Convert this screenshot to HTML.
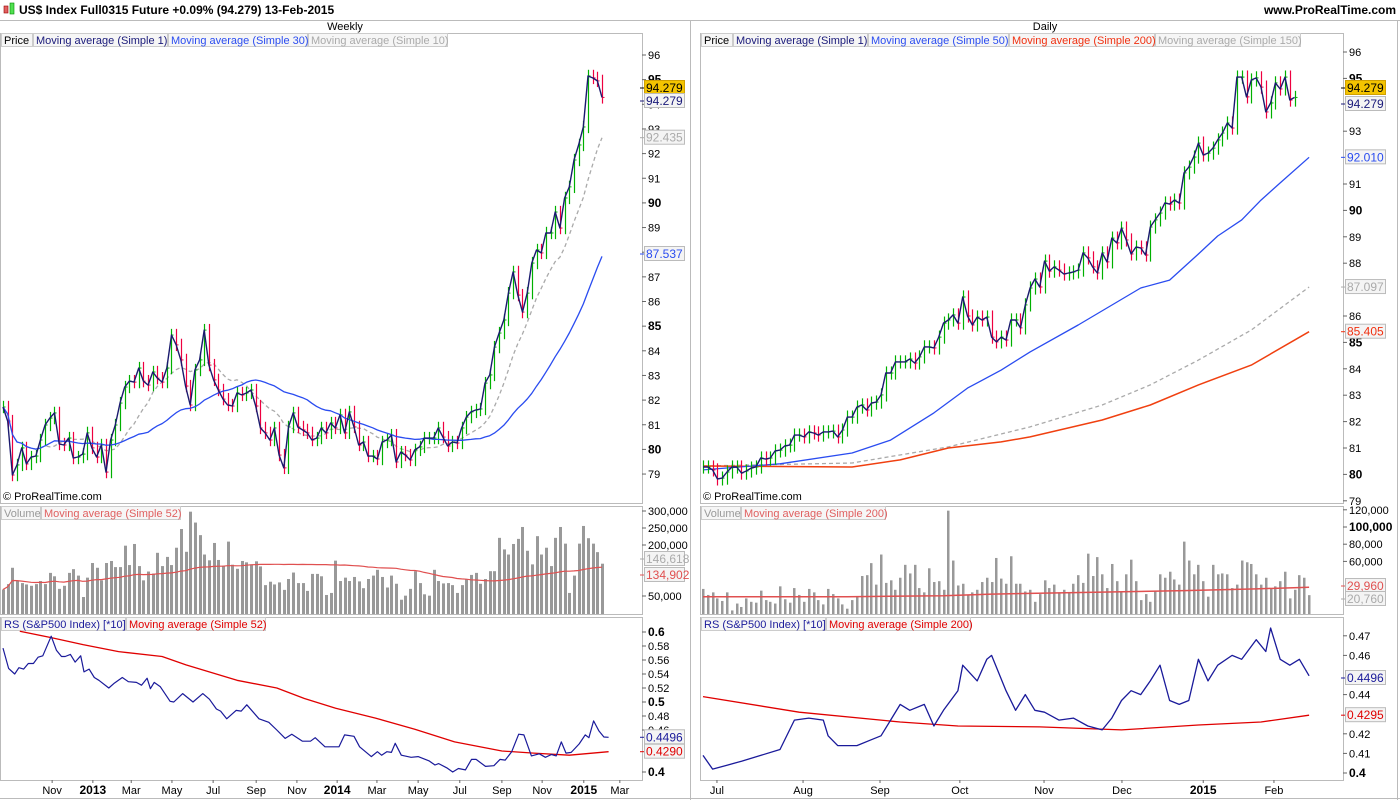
<!DOCTYPE html>
<html><head><meta charset="utf-8"><style>
body{margin:0;background:#fff;font-family:"Liberation Sans",sans-serif}
svg{display:block}
text{font-family:"Liberation Sans",sans-serif}
</style></head><body>
<svg id="c" width="1400" height="800" viewBox="0 0 1400 800" xmlns="http://www.w3.org/2000/svg">
<rect x="0" y="0" width="1400" height="800" fill="#fff"/>
<g>
<rect x="4" y="6" width="4" height="7" fill="#e06060" stroke="#900" stroke-width="0.6"/>
<rect x="10" y="3" width="4" height="11" fill="#50e050" stroke="#080" stroke-width="0.6"/>
<text x="19" y="14" font-size="12" font-weight="bold" fill="#000">US$ Index Full0315 Future   +0.09% (94.279)   13-Feb-2015</text>
<text x="1396" y="14" font-size="12" font-weight="bold" text-anchor="end" fill="#000">www.ProRealTime.com</text>
<line x1="0" y1="20.5" x2="1400" y2="20.5" stroke="#bbb"/>
</g>
<text x="345" y="30" font-size="11" text-anchor="middle">Weekly</text>
<text x="1045" y="30" font-size="11" text-anchor="middle">Daily</text>
<g id="g"></g>
</svg>
<script>
// ===== Weekly data =====
const wCloses=[81.72,81.15,78.96,79.37,80.06,79.41,79.69,79.73,80.38,80.99,81.27,81.48,80.22,80.18,80.46,79.65,79.69,79.81,80.67,80.06,79.69,80.18,79.08,80.38,80.99,81.88,82.53,82.77,82.73,83.30,82.77,82.61,83.14,82.89,82.73,83.30,84.64,84.24,83.63,82.57,81.80,83.22,83.63,84.84,83.42,82.82,82.41,82.04,81.80,81.76,82.29,82.21,82.29,82.41,81.76,80.87,80.67,80.38,80.87,79.77,79.25,80.91,81.48,80.91,80.79,80.67,80.38,
80.46,80.87,80.67,81.07,80.87,81.40,80.67,81.52,80.91,80.18,80.30,79.73,79.73,79.61,80.30,80.38,80.58,79.49,79.89,79.77,79.57,79.98,80.10,80.46,80.46,80.46,80.87,80.50,80.14,80.30,80.26,80.87,81.31,81.52,81.60,81.64,82.69,83.02,84.15,84.72,85.25,86.34,87.20,86.26,85.57,86.34,87.56,88.09,87.97,88.78,88.78,89.63,88.98,90.20,90.65,91.74,92.35,93.08,95.15,95.07,94.95,94.279];
const wVolumeK=[69,85,133,94,88,84,80,85,94,85,118,108,71,80,118,129,110,47,104,147,133,96,147,153,135,135,198,141,203,138,96,122,116,177,138,165,141,192,247,180,298,266,229,172,155,206,156,139,210,142,130,153,149,143,152,137,82,92,84,90,68,100,119,88,88,65,115,115,108,53,59,154,94,104,94,106,93,73,100,110,127,106,75,110,86,39,51,71,123,88,55,51,127,94,87,88,82,59,82,100,112,118,86,100,123,123,221,187,172,203,218,253,183,143,226,172,192,138,221,253,204,59,110,204,256,220,204,179,145];
const wRsIdx=[0,1.2,2.5,3.4,4.4,5.4,6.5,7.5,8.5,10.3,11.4,12.5,13.3,14.4,15.4,16.6,17.3,18.4,19.5,20.5,22.6,23.8,25.5,26.8,28.5,29.6,30.8,31.5,32.3,33.6,35.7,36.5,38.4,40.6,42.7,44.1,45.6,46.5,47.8,49.8,50.9,52.1,54.7,56.8,58.5,60.3,61.7,64,65.7,66.7,68.8,71.8,73,75,76.2,78.7,80,80.9,82,83,83.8,85.1,87.2,88.7,91,92.3,93.1,94.8,96.1,97.3,98.8,100.1,101.1,103.1,104.9,106.2,107.3,108.7,110.2,111.3,112.9,114.6,115.9,117.2,118.2,119.3,120.3,121.4,123.1,124.4,125.2,126.2,127.3,128.4,129.4];
const wRsVal=[0.577,0.548,0.540,0.549,0.547,0.555,0.555,0.564,0.566,0.594,0.574,0.565,0.565,0.568,0.557,0.566,0.543,0.547,0.535,0.531,0.520,0.527,0.535,0.529,0.528,0.524,0.534,0.519,0.528,0.522,0.501,0.500,0.512,0.500,0.512,0.504,0.490,0.487,0.476,0.488,0.487,0.496,0.476,0.471,0.460,0.448,0.454,0.444,0.444,0.449,0.436,0.436,0.453,0.451,0.436,0.422,0.429,0.424,0.429,0.428,0.441,0.424,0.421,0.422,0.416,0.410,0.412,0.406,0.400,0.405,0.403,0.418,0.418,0.408,0.409,0.418,0.417,0.429,0.454,0.453,0.423,0.426,0.421,0.425,0.423,0.443,0.427,0.428,0.440,0.453,0.449,0.473,0.459,0.450,0.4496];
const wRsMaIdx=[3.6,10.3,17.1,24.7,34,39.1,50,58.5,64.4,71.1,79.6,88,96.5,106.6,113.4,121,129.4];
const wRsMaVal=[0.601,0.592,0.582,0.572,0.565,0.553,0.531,0.520,0.505,0.491,0.477,0.461,0.443,0.430,0.427,0.424,0.429];
const wMonthLabels=["Nov","2013","Mar","May","Jul","Sep","Nov","2014","Mar","May","Jul","Sep","Nov","2015","Mar"];
const wMonthWeek=[10.5,19.2,27.4,36.1,44.9,54.1,62.8,71.4,79.9,88.7,97.6,106.6,115.2,124.1,131.8];
const wPriceTicks=[96,95,94,93,92,91,90,89,88,87,86,85,84,83,82,81,80,79];
const wVolTicks=[300,250,200,50];
const wRsTicks=[0.6,0.58,0.56,0.54,0.52,0.5,0.48,0.46,0.4];
// ===== Daily data =====
const dCloses=[80.28,80.28,80.17,79.83,79.86,80.09,80.28,80.28,80.05,80.13,80.24,80.28,80.62,80.58,80.62,80.89,80.92,81.08,81.11,81.49,81.49,81.42,81.61,81.57,81.49,81.61,81.61,81.64,81.42,81.68,82.17,82.17,82.55,82.63,82.44,82.70,82.74,83.01,83.84,83.84,84.26,84.26,84.26,84.37,84.22,84.45,84.83,84.83,84.79,85.20,85.73,85.85,86.04,85.73,86.72,86.00,85.66,85.96,85.85,85.96,85.20,85.02,85.20,85.09,85.85,85.85,85.55,86.42,87.06,87.40,87.10,88.08,87.70,87.86,87.74,87.59,87.63,87.67,87.74,88.39,88.20,87.86,87.63,88.39,88.05,88.95,88.77,89.33,88.88,88.35,88.61,88.58,88.31,89.37,89.64,89.90,90.28,90.24,90.39,90.28,91.42,91.64,92.02,92.55,92.10,92.17,92.36,92.67,92.93,93.31,93.12,95.05,95.05,94.30,94.94,95.02,94.67,93.73,94.07,94.83,94.60,95.05,94.18,94.279];
const dVolumeK=[28,21,24,17,14,24,3,11,7,17,13,12,26,15,13,11,31,16,12,29,21,13,28,24,15,10,28,22,17,10,5,15,19,43,44,58,33,68,35,38,27,41,56,46,56,29,24,52,36,37,27,119,61,32,34,21,24,27,36,41,36,64,40,34,66,34,34,25,27,13,22,38,29,33,24,27,24,34,44,35,69,43,65,45,29,57,37,25,45,62,37,15,22,13,25,45,41,48,39,33,83,61,45,56,37,19,56,45,46,45,29,33,61,59,57,45,33,41,28,31,37,48,17,27,44,41,20.76];
const dMa50Idx=[0,16,31,39,48,55,62,68,78,91,97,103,107,112,116,120,126];
const dMa50Val=[80.17,80.40,80.81,81.30,82.33,83.27,83.95,84.64,85.66,87.06,87.36,88.35,89.03,89.64,90.39,91.04,92.01];
const dMa200Idx=[0,31,41,51,62,68,83,93,103,114,126];
const dMa200Val=[80.32,80.28,80.55,81.00,81.23,81.42,82.06,82.63,83.39,84.14,85.405];
const dMa150Idx=[0,31,51,68,83,93,103,114,126];
const dMa150Val=[80.32,80.43,81.04,81.80,82.63,83.39,84.33,85.47,87.097];
const dVolMaIdx=[0,30,50,60,80,100,115,126];
const dVolMaVal=[19,19,20,22,24,26,28,29.96];
const dRsIdx=[0,2,5,8,12,16,19,22,25,26,28,32,35,37,39,41,43,46,48,50,53,54,57,59,60,63,65,67,69,71,74,77,80,83,85,87,89,91,93,95,97,99,101,103,105,107,110,112,115,117,118,120,122,124,126];
const dRsVal=[0.409,0.402,0.404,0.406,0.409,0.412,0.427,0.428,0.427,0.419,0.414,0.414,0.417,0.419,0.427,0.435,0.432,0.435,0.424,0.432,0.442,0.455,0.447,0.458,0.460,0.442,0.432,0.440,0.432,0.431,0.427,0.428,0.424,0.422,0.428,0.437,0.442,0.440,0.447,0.455,0.437,0.435,0.437,0.458,0.447,0.455,0.460,0.458,0.468,0.462,0.474,0.458,0.455,0.458,0.4496];
const dRsMaIdx=[0,20,41,53,70,87,103,116,126];
const dRsMaVal=[0.439,0.431,0.426,0.424,0.4235,0.422,0.4245,0.426,0.4295];
const dMonthLabels=["Jul","Aug","Sep","Oct","Nov","Dec","2015","Feb"];
const dMonthDay=[2.9,20.8,36.8,53.4,70.9,87.1,104,118.7];
const dPriceTicks=[96,95,93,91,90,89,88,86,85,84,83,82,81,80,79];
const dVolTicks=[120,100,80,60];
const dRsTicks=[0.47,0.46,0.44,0.42,0.41,0.4];

const NS="http://www.w3.org/2000/svg";
const G=document.getElementById('g');
function mk(tag,attrs,parent){const e=document.createElementNS(NS,tag);for(const k in attrs)e.setAttribute(k,attrs[k]);(parent||G).appendChild(e);return e;}
function txt(x,y,s,attrs,parent){const e=mk('text',Object.assign({x:x,y:y,'font-size':11,fill:'#000'},attrs||{}),parent);e.textContent=s;return e;}
function sma(arr,n){return arr.map((v,i)=>{const s=Math.max(0,i-n+1);let t=0;for(let j=s;j<=i;j++)t+=arr[j];return t/(i-s+1);});}

const wx=i=>3+i*4.68;
const dx=i=>703+i*4.81;
const wpy=p=>55+(96-p)*24.65;
const dpy=p=>52+(96-p)*26.4;
const wvy=v=>613-v*0.34;
const dvy=v=>613-v*0.86;
const wry=v=>632+(0.6-v)*700;
const dry=v=>773-(v-0.4)*1960;

function frame(x,y,w,h,name){const r=mk('rect',{x:x+0.5,y:y+0.5,width:w,height:h,fill:'none',stroke:'#bbb'});}
frame(0,33,642,470,'weekly-price-pane');frame(0,506,642,108,'weekly-volume-pane');frame(0,617,642,163,'weekly-rs-pane');
frame(700,33,643,470,'daily-price-pane');frame(700,506,643,108,'daily-volume-pane');frame(700,617,643,163,'daily-rs-pane');
mk('line',{x1:690.5,y1:21,x2:690.5,y2:800,stroke:'#bbb'});
mk('line',{x1:1397.5,y1:21,x2:1397.5,y2:800,stroke:'#bbb'});
mk('line',{x1:0,y1:798.5,x2:1400,y2:798.5,stroke:'#bbb'});

let defs=mk('defs',{});
function clip(id,x,y,w,h){const c=mk('clipPath',{id:id},defs);mk('rect',{x:x,y:y,width:w,height:h},c);}
clip('cwp',1,34,641,469);clip('cdp',701,34,642,469);clip('cwv',1,507,641,107);clip('cdv',701,507,642,107);clip('cwr',1,618,641,162);clip('cdr',701,618,642,162);

function legend(x,y,items,name){let cx=x;const g=mk('g',{});
 items.forEach(([s,col,w])=>{const r=mk('rect',{x:cx+0.5,y:y+0.5,width:w,height:13,fill:'#f6f6f6',stroke:'#ccc'},g);txt(cx+3,y+11,s,{fill:col},g);cx+=w+1;});}
legend(1,33,[['Price','#000',31],['Moving average (Simple 1)','#1a1a7a',134],['Moving average (Simple 30)','#2a4cf0',139],['Moving average (Simple 10)','#aaa',139]],'weekly-price-legend');
legend(701,33,[['Price','#000',31],['Moving average (Simple 1)','#1a1a7a',134],['Moving average (Simple 50)','#2a4cf0',140],['Moving average (Simple 200)','#f03010',145],['Moving average (Simple 150)','#aaa',145]],'daily-price-legend');
legend(1,506,[['Volume','#999',39],['Moving average (Simple 52)','#e06060',139]],'weekly-volume-legend');
legend(701,506,[['Volume','#999',39],['Moving average (Simple 200)','#e06060',144]],'daily-volume-legend');
legend(1,617,[['RS (S&P500 Index) [*10]','#1a1a9a',124],['Moving average (Simple 52)','#e00000',139]],'weekly-rs-legend');
legend(701,617,[['RS (S&P500 Index) [*10]','#1a1a9a',124],['Moving average (Simple 200)','#e00000',144]],'daily-rs-legend');
txt(3,500,'© ProRealTime.com',{});
txt(703,500,'© ProRealTime.com',{});

function ticks(list,yf,x,fmt,boldSet){list.forEach(v=>{const y=yf(v);mk('line',{x1:x,y1:y,x2:x+4,y2:y,stroke:'#666'});const b=boldSet.includes(v);txt(x+6,y+4,fmt(v),{'font-size':b?12:11,'font-weight':b?'bold':'normal'});});}
const fmtK=v=>(v*1000).toLocaleString('en-US');
ticks(wPriceTicks,wpy,642,v=>String(v),[95,90,85,80]);
ticks(dPriceTicks,dpy,1343,v=>String(v),[95,90,85,80]);
ticks(wVolTicks,wvy,642,fmtK,[]);
ticks(dVolTicks,dvy,1343,fmtK,[100]);
ticks(wRsTicks,wry,642,v=>String(v),[0.6,0.5,0.4]);
ticks(dRsTicks,dry,1343,v=>String(v),[0.4]);

function xlabels(labels,pos,xf,name){labels.forEach((s,i)=>{const b=/^\d{4}$/.test(s);const t=txt(xf(pos[i]),794,s,{'font-size':b?12:11,'font-weight':b?'bold':'normal','text-anchor':'middle'});mk('line',{x1:xf(pos[i]),y1:780,x2:xf(pos[i]),y2:783,stroke:'#666'});});}
xlabels(wMonthLabels,wMonthWeek,wx,'weekly-x-label');
xlabels(dMonthLabels,dMonthDay,dx,'daily-x-label');

function candles(cl,xf,yf,cp,name){const g=mk('g',{'clip-path':'url(#'+cp+')'});
 cl.forEach((c,i)=>{const o=i?cl[i-1]:c;const hi=Math.max(o,c)+0.25,lo=Math.min(o,c)-0.25;const col=c>=o?'#00b000':'#ee0040';const x=Math.round(xf(i))+0.5;
  const l=mk('line',{x1:x,y1:yf(hi),x2:x,y2:yf(lo),stroke:col,'stroke-width':1.2},g);
  mk('line',{x1:x,y1:yf(c),x2:x+2,y2:yf(c),stroke:col},g);});
 return g;}
function poly(vals,xf,yf,cp,attrs,name,idx){const pts=vals.map((v,i)=>xf(idx?idx[i]:i).toFixed(1)+','+yf(v).toFixed(1)).join(' ');const p=mk('polyline',Object.assign({points:pts,fill:'none','clip-path':'url(#'+cp+')','stroke-linejoin':'round'},attrs));return p;}

poly(sma(wCloses,10),wx,wpy,'cwp',{stroke:'#aaa','stroke-width':1.3,'stroke-dasharray':'4,3'},'weekly-ma10');
candles(wCloses,wx,wpy,'cwp','weekly-candles');
poly(sma(wCloses,30),wx,wpy,'cwp',{stroke:'#2a4cf0','stroke-width':1.3},'weekly-ma30');
poly(wCloses,wx,wpy,'cwp',{stroke:'#1a1a6e','stroke-width':1.4},'weekly-close-line');
poly(dMa150Val,dx,dpy,'cdp',{stroke:'#aaa','stroke-width':1.3,'stroke-dasharray':'4,3'},'daily-ma150',dMa150Idx);
poly(dMa200Val,dx,dpy,'cdp',{stroke:'#f04010','stroke-width':1.5},'daily-ma200',dMa200Idx);
poly(dMa50Val,dx,dpy,'cdp',{stroke:'#2a4cf0','stroke-width':1.3},'daily-ma50',dMa50Idx);
candles(dCloses,dx,dpy,'cdp','daily-candles');
poly(dCloses,dx,dpy,'cdp',{stroke:'#1a1a6e','stroke-width':1.4},'daily-close-line');
function vbars(vals,xf,yf,cp,w,name){const g=mk('g',{'clip-path':'url(#'+cp+')'});
 vals.forEach((v,i)=>{const r=mk('rect',{x:Math.round(xf(i))-1,y:yf(v),width:w,height:613-yf(v)+1,fill:'#999'},g);});}
vbars(wVolumeK,wx,wvy,'cwv',3,'weekly-volume-bars');
poly(sma(wVolumeK,52),wx,wvy,'cwv',{stroke:'#e05050','stroke-width':1.2},'weekly-volume-ma52');
vbars(dVolumeK,dx,dvy,'cdv',2.5,'daily-volume-bars');
poly(dVolMaVal,dx,dvy,'cdv',{stroke:'#e05050','stroke-width':1.5},'daily-volume-ma200',dVolMaIdx);
poly(wRsMaVal,wx,wry,'cwr',{stroke:'#e00000','stroke-width':1.3},'weekly-rs-ma',wRsMaIdx);
poly(wRsVal,wx,wry,'cwr',{stroke:'#1a1a9a','stroke-width':1.2},'weekly-rs-line',wRsIdx);
poly(dRsMaVal,dx,dry,'cdr',{stroke:'#e00000','stroke-width':1.3},'daily-rs-ma',dRsMaIdx);
poly(dRsVal,dx,dry,'cdr',{stroke:'#1a1a9a','stroke-width':1.3},'daily-rs-line',dRsIdx);

function vbox(x,y,s,col,bg,bc,name){const g=mk('g',{});mk('line',{x1:x-4,y1:y,x2:x,y2:y,stroke:col},g);mk('rect',{x:x+0.5,y:y-7.5,width:40,height:14,fill:bg,stroke:bc},g);txt(x+2,y+4,s,{fill:col,'font-size':12},g);}
const wl=wCloses[wCloses.length-1], dl=dCloses[dCloses.length-1];
vbox(644,88,wl.toFixed(3),'#000','#f4c400','#d0a000','weekly-last-price');
vbox(644,101,wl.toFixed(3),'#1a1a7a','#f4f4f4','#bbb','weekly-ma1-value');
vbox(644,wpy(sma(wCloses,10).slice(-1)[0]),'92.435','#aaa','#f4f4f4','#bbb','weekly-ma10-value');
vbox(644,254,'87.537','#2a4cf0','#f4f4f4','#bbb','weekly-ma30-value');
vbox(644,559,'146,618','#aaa','#f4f4f4','#bbb','weekly-volume-value');
vbox(644,575,'134,902','#e05050','#f4f4f4','#bbb','weekly-volume-ma-value');
vbox(644,wry(wRsVal[wRsVal.length-1]),'0.4496','#1a1a9a','#f4f4f4','#bbb','weekly-rs-value');
vbox(644,wry(0.429),'0.4290','#e00000','#f4f4f4','#bbb','weekly-rs-ma-value');
vbox(1345,88,dl.toFixed(3),'#000','#f4c400','#d0a000','daily-last-price');
vbox(1345,104,dl.toFixed(3),'#1a1a7a','#f4f4f4','#bbb','daily-ma1-value');
vbox(1345,dpy(dMa50Val[dMa50Val.length-1]),'92.010','#2a4cf0','#f4f4f4','#bbb','daily-ma50-value');
vbox(1345,dpy(dMa150Val[dMa150Val.length-1]),'87.097','#aaa','#f4f4f4','#bbb','daily-ma150-value');
vbox(1345,dpy(dMa200Val[dMa200Val.length-1]),'85.405','#f03010','#f4f4f4','#bbb','daily-ma200-value');
vbox(1345,586,'29,960','#e05050','#f4f4f4','#bbb','daily-volume-ma-value');
vbox(1345,599,'20,760','#aaa','#f4f4f4','#bbb','daily-volume-value');
vbox(1345,678,'0.4496','#1a1a9a','#f4f4f4','#bbb','daily-rs-value');
vbox(1345,dry(dRsMaVal[dRsMaVal.length-1]),'0.4295','#e00000','#f4f4f4','#bbb','daily-rs-ma-value');
</script>
</body></html>
